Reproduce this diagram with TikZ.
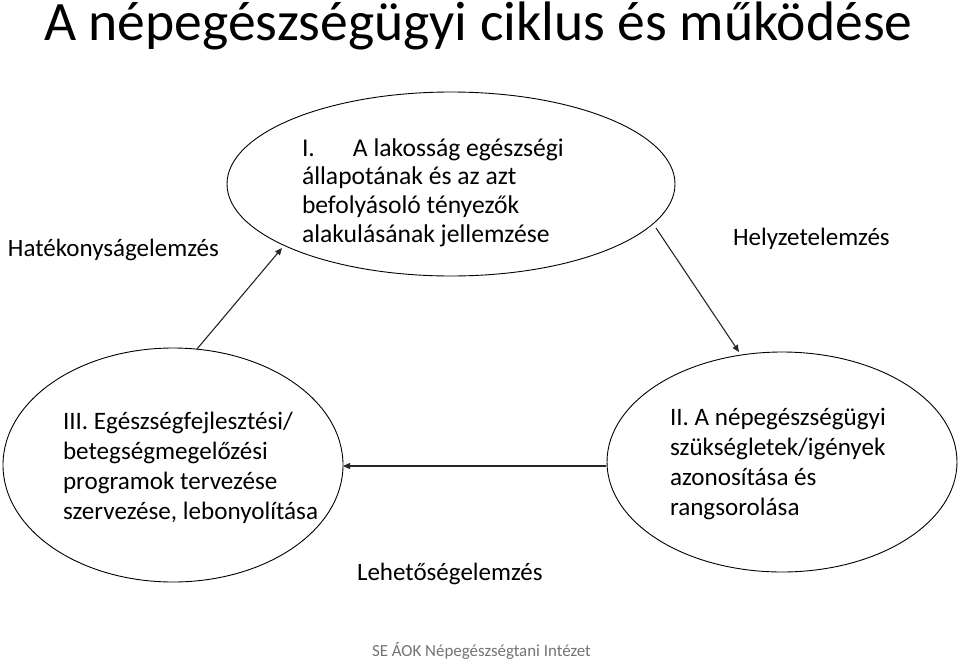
\documentclass[tikz,border=0pt]{standalone}
\usepackage{fontspec}
\setmainfont{Carlito}
\usetikzlibrary{arrows.meta}
\begin{document}
\begin{tikzpicture}[x=1pt,y=-1pt,
  txt/.style={anchor=base west,inner sep=0pt,outer sep=0pt},
  flow/.style={draw=black!85,line width=1.1pt,-{Triangle[length=7pt,width=6pt]}},
  body/.style={font=\fontsize{25.1}{30}\selectfont},
  lab/.style={font=\fontsize{25}{29}\selectfont}]
\useasboundingbox (0,0) rectangle (960,659);
% ellipses
\draw[line width=0.9pt] (451,184) ellipse [x radius=224, y radius=92];
\draw[line width=0.9pt] (173,465) ellipse [x radius=170, y radius=117];
\draw[line width=0.9pt] (782,462) ellipse [x radius=175, y radius=110];
% connector points on ellipse borders
\coordinate (a1) at (197,349);
\coordinate (a2) at (282,248);
\coordinate (b1) at (656,228);
\coordinate (b2) at (739,352);
\coordinate (c1) at (606,466);
\coordinate (c2) at (343,466);
\draw[flow] (a1) -- (a2);
\draw[flow] (b1) -- (b2);
\draw[flow] (c1) -- (c2);
% title
\node[txt,font=\fontsize{55.6}{60}\selectfont] (title) at (44,40) {A népegészségügyi ciklus és működése};
% ellipse texts
\node[txt,font=\fontsize{25.6}{28.7}\selectfont] (tI) at (302,156) {\begin{tabular}[t]{@{}l@{}}\makebox[51pt][l]{I.}A lakosság egészségi\\állapotának és az azt\\befolyásoló tényezők\\alakulásának jellemzése\end{tabular}};
\node[txt,body] (tIII) at (63,429) {\begin{tabular}[t]{@{}l@{}}III. Egészségfejlesztési/\\betegségmegelőzési\\programok tervezése\\szervezése, lebonyolítása\end{tabular}};
\node[txt,body] (tII) at (670,425) {\begin{tabular}[t]{@{}l@{}}II. A népegészségügyi\\szükségletek/igények\\azonosítása és\\rangsorolása\end{tabular}};
% labels
\node[txt,lab] (hat) at (8,256) {Hatékonyságelemzés};
\node[txt,lab] (hely) at (733,245) {Helyzetelemzés};
\node[txt,lab] (leh) at (357,580) {Lehetőségelemzés};
\node[txt,font=\fontsize{16.9}{20}\selectfont,text=black!55] (foot) at (372,656) {SE ÁOK Népegészségtani Intézet};
\end{tikzpicture}
\end{document}
